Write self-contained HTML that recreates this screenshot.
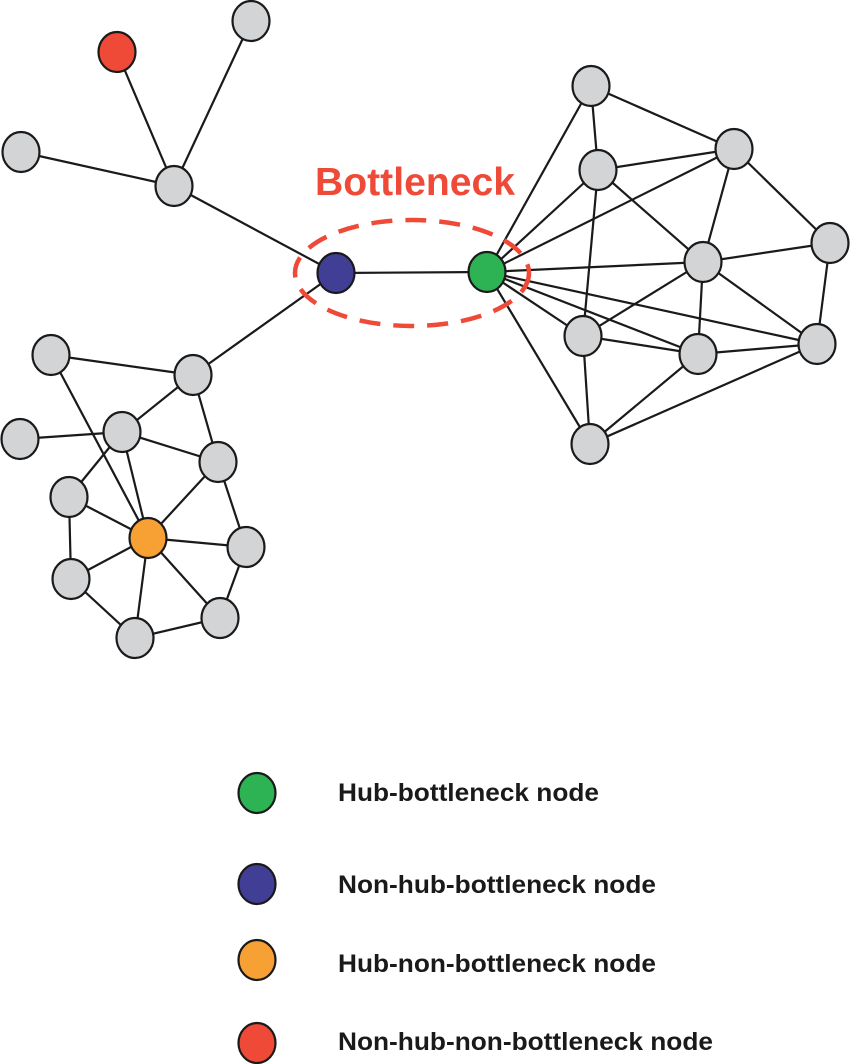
<!DOCTYPE html>
<html><head><meta charset="utf-8"><style>html,body{margin:0;padding:0;background:#fff}svg{display:block}</style></head>
<body>
<svg width="850" height="1064" viewBox="0 0 850 1064" xmlns="http://www.w3.org/2000/svg">
<g stroke="#1a1a1a" stroke-width="2.2">
<!-- top-left -->
<line x1="117" y1="52" x2="174" y2="186"/>
<line x1="251" y1="21" x2="174" y2="186"/>
<line x1="21" y1="152" x2="174" y2="186"/>
<line x1="174" y1="186" x2="336" y2="273"/>
<line x1="336" y1="273" x2="193" y2="375"/>
<line x1="336" y1="273" x2="487" y2="272"/>
<!-- left cluster -->
<line x1="51" y1="355" x2="193" y2="375"/>
<line x1="51" y1="355" x2="148" y2="538"/>
<line x1="193" y1="375" x2="122" y2="432"/>
<line x1="193" y1="375" x2="218" y2="462"/>
<line x1="20" y1="439" x2="122" y2="432"/>
<line x1="122" y1="432" x2="218" y2="462"/>
<line x1="122" y1="432" x2="69" y2="497"/>
<line x1="122" y1="432" x2="148" y2="538"/>
<line x1="218" y1="462" x2="148" y2="538"/>
<line x1="218" y1="462" x2="246" y2="547"/>
<line x1="69" y1="497" x2="148" y2="538"/>
<line x1="69" y1="497" x2="71" y2="579"/>
<line x1="71" y1="579" x2="148" y2="538"/>
<line x1="71" y1="579" x2="135" y2="638"/>
<line x1="148" y1="538" x2="246" y2="547"/>
<line x1="148" y1="538" x2="220" y2="618"/>
<line x1="148" y1="538" x2="135" y2="638"/>
<line x1="246" y1="547" x2="220" y2="618"/>
<line x1="220" y1="618" x2="135" y2="638"/>
<!-- right cluster -->
<line x1="487" y1="272" x2="591" y2="86"/>
<line x1="591" y1="86" x2="598" y2="170"/>
<line x1="591" y1="86" x2="734" y2="149"/>
<line x1="598" y1="170" x2="734" y2="149"/>
<line x1="598" y1="170" x2="487" y2="272"/>
<line x1="734" y1="149" x2="487" y2="272"/>
<line x1="598" y1="170" x2="703" y2="262"/>
<line x1="598" y1="170" x2="583" y2="336"/>
<line x1="734" y1="149" x2="703" y2="262"/>
<line x1="734" y1="149" x2="830" y2="243"/>
<line x1="830" y1="243" x2="703" y2="262"/>
<line x1="830" y1="243" x2="817" y2="344"/>
<line x1="703" y1="262" x2="487" y2="272"/>
<line x1="703" y1="262" x2="583" y2="336"/>
<line x1="703" y1="262" x2="698" y2="354"/>
<line x1="703" y1="262" x2="817" y2="344"/>
<line x1="487" y1="272" x2="583" y2="336"/>
<line x1="487" y1="272" x2="698" y2="354"/>
<line x1="487" y1="272" x2="817" y2="344"/>
<line x1="487" y1="272" x2="590" y2="444"/>
<line x1="583" y1="336" x2="698" y2="354"/>
<line x1="583" y1="336" x2="590" y2="444"/>
<line x1="698" y1="354" x2="817" y2="344"/>
<line x1="698" y1="354" x2="590" y2="444"/>
<line x1="817" y1="344" x2="590" y2="444"/>
</g>
<g stroke="#1a1a1a" stroke-width="2.2" fill="#d3d4d6">
<ellipse cx="251" cy="21" rx="18.5" ry="20"/>
<ellipse cx="21" cy="152" rx="18.5" ry="20"/>
<ellipse cx="174" cy="186" rx="18.5" ry="20"/>
<ellipse cx="51" cy="355" rx="18.5" ry="20"/>
<ellipse cx="193" cy="375" rx="18.5" ry="20"/>
<ellipse cx="20" cy="439" rx="18.5" ry="20"/>
<ellipse cx="122" cy="432" rx="18.5" ry="20"/>
<ellipse cx="218" cy="462" rx="18.5" ry="20"/>
<ellipse cx="69" cy="497" rx="18.5" ry="20"/>
<ellipse cx="246" cy="547" rx="18.5" ry="20"/>
<ellipse cx="71" cy="579" rx="18.5" ry="20"/>
<ellipse cx="220" cy="618" rx="18.5" ry="20"/>
<ellipse cx="135" cy="638" rx="18.5" ry="20"/>
<ellipse cx="591" cy="86" rx="18.5" ry="20"/>
<ellipse cx="598" cy="170" rx="18.5" ry="20"/>
<ellipse cx="734" cy="149" rx="18.5" ry="20"/>
<ellipse cx="830" cy="243" rx="18.5" ry="20"/>
<ellipse cx="703" cy="262" rx="18.5" ry="20"/>
<ellipse cx="583" cy="336" rx="18.5" ry="20"/>
<ellipse cx="698" cy="354" rx="18.5" ry="20"/>
<ellipse cx="817" cy="344" rx="18.5" ry="20"/>
<ellipse cx="590" cy="444" rx="18.5" ry="20"/>
<ellipse cx="117" cy="52" rx="18.5" ry="20" fill="#ef4a37"/>
<ellipse cx="336" cy="273" rx="18.5" ry="20" fill="#413e95"/>
<ellipse cx="487" cy="272" rx="18.5" ry="20" fill="#2db254"/>
<ellipse cx="148" cy="538" rx="18.5" ry="20" fill="#f7a034"/>
<ellipse cx="257" cy="793" rx="18.5" ry="20" fill="#2db254"/>
<ellipse cx="257" cy="884" rx="18.5" ry="20" fill="#413e95"/>
<ellipse cx="257" cy="960" rx="18.5" ry="20" fill="#f7a034"/>
<ellipse cx="257" cy="1043" rx="18.5" ry="20" fill="#ef4a37"/>
</g>
<ellipse cx="412" cy="273" rx="117" ry="53" fill="none" stroke="#ef4a37" stroke-width="4.5" stroke-dasharray="21 13"/>
<text x="315" y="195" font-family="Liberation Sans, sans-serif" font-weight="bold" font-size="39" fill="#ef4a37" textLength="200" lengthAdjust="spacingAndGlyphs">Bottleneck</text>
<g font-family="Liberation Sans, sans-serif" font-weight="bold" font-size="25" fill="#1a1a1a">
<text x="338" y="801" textLength="261" lengthAdjust="spacingAndGlyphs">Hub-bottleneck node</text>
<text x="338" y="893" textLength="318" lengthAdjust="spacingAndGlyphs">Non-hub-bottleneck node</text>
<text x="338" y="972" textLength="318" lengthAdjust="spacingAndGlyphs">Hub-non-bottleneck node</text>
<text x="338" y="1050" textLength="375" lengthAdjust="spacingAndGlyphs">Non-hub-non-bottleneck node</text>
</g>
</svg>
</body></html>
